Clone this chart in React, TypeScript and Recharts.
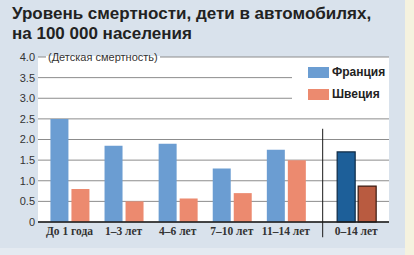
import React from "react";
import {
  ComposedChart,
  Bar,
  XAxis,
  YAxis,
  CartesianGrid,
  Legend,
  ReferenceLine,
  Cell,
} from "recharts";

// ---- data ----
const categories = ["До 1 года", "1–3 лет", "4–6 лет", "7–10 лет", "11–14 лет", "0–14 лет"];
const groupPos = [0, 1, 2, 3, 4, 5.3];
const france = [2.5, 1.85, 1.9, 1.3, 1.75, 1.7];
const sweden = [0.8, 0.5, 0.57, 0.7, 1.5, 0.87];
const yTicks = [0, 0.5, 1, 1.5, 2, 2.5, 3, 3.5, 4];
const seriesNames = ["Франция", "Швеция"];
const title = ["Уровень смертности, дети в автомобилях,", "на 100 000 населения"];
const subtitle = "(Детская смертность)";

const data = categories.map((c, i) => ({
  pos: groupPos[i],
  name: c,
  france: france[i],
  sweden: sweden[i],
}));

// ---- styles ----
const PANEL = "#d9e2ec";
const CREAM = "#f5f2df";
const FR = "#6b9dd2";
const SE = "#ec8a6f";
const FR_DARK = "#1d5f99";
const SE_DARK = "#b95b40";
const DIVIDER_X = 4.68;

const LegendContent = () => {
  const colors = [FR, SE];
  return (
    <div style={{ width: 97, height: 54, background: "#fff", position: "relative" }}>
      {seriesNames.map((n, i) => (
        <div
          key={n}
          style={{
            position: "absolute",
            left: 16,
            top: 9 + i * 22,
            display: "flex",
            alignItems: "center",
            height: 11,
          }}
        >
          <div style={{ width: 21, height: 11, background: colors[i] }} />
          <span
            style={{
              marginLeft: 3,
              fontFamily: "'Liberation Sans Narrow', 'Liberation Sans', Arial, sans-serif",
              fontWeight: "bold",
              fontSize: 12,
              color: "#222",
              lineHeight: "11px",
            }}
          >
            {n}
          </span>
        </div>
      ))}
    </div>
  );
};

export default function App() {
  return (
    <div style={{ position: "absolute", left: 0, top: 0, width: 414, height: 255, background: CREAM, overflow: "hidden" }}>
      <div style={{ position: "absolute", left: 0, top: 0, width: 405, height: 248, background: PANEL }} />
      <div style={{ position: "absolute", left: 0, top: 248, width: 405, height: 7, background: "#e4eaf1" }} />
      <div style={{ position: "absolute", left: 0, top: 0 }}>
        <ComposedChart
          width={405}
          height={248}
          data={data}
          margin={{ top: 57, right: 16, bottom: 0, left: 0 }}
          barSize={18}
          barGap={3}
        >
          <CartesianGrid vertical={false} fill="#ffffff" stroke="#8c8c8c" strokeWidth={1} />
          <XAxis
            dataKey="pos"
            type="number"
            domain={[-0.582, 5.906]}
            ticks={groupPos}
            allowDataOverflow
            interval={0}
            height={26}
            tickSize={0}
            tickMargin={5}
            axisLine={{ stroke: "#1a1a1a", strokeWidth: 1.5 }}
            tickLine={false}
            tickFormatter={(v: number) => categories[groupPos.indexOf(v)] ?? ""}
            tick={{
              fontSize: 11.5,
              fontWeight: "bold",
              fontFamily: "'Liberation Serif', 'DejaVu Serif', serif",
              fill: "#333",
            }}
          />
          <YAxis
            width={38}
            domain={[0, 4]}
            ticks={yTicks}
            interval={0}
            axisLine={false}
            tickLine={false}
            tickSize={0}
            tickMargin={3}
            tickFormatter={(v: number) => (v === 0 ? "0" : v.toFixed(1))}
            tick={{ fontSize: 11, fontFamily: "'Liberation Sans', Arial, sans-serif", fill: "#333" }}
          />
          <Legend
            layout="vertical"
            align="center"
            verticalAlign="middle"
            content={<LegendContent />}
            wrapperStyle={{ position: "absolute", left: 292, top: 58, width: 97, height: 54, margin: 0 }}
          />
          <Bar dataKey="france" name={seriesNames[0]} fill={FR} isAnimationActive={false}>
            {data.map((d, i) => (
              <Cell
                key={i}
                fill={i === data.length - 1 ? FR_DARK : FR}
                stroke={i === data.length - 1 ? "#0e2a44" : "none"}
                strokeWidth={i === data.length - 1 ? 1.2 : 0}
              />
            ))}
          </Bar>
          <Bar dataKey="sweden" name={seriesNames[1]} fill={SE} isAnimationActive={false}>
            {data.map((d, i) => (
              <Cell
                key={i}
                fill={i === data.length - 1 ? SE_DARK : SE}
                stroke={i === data.length - 1 ? "#3a1a10" : "none"}
                strokeWidth={i === data.length - 1 ? 1.2 : 0}
              />
            ))}
          </Bar>
          <ReferenceLine
            segment={[
              { x: DIVIDER_X, y: 2.26 },
              { x: DIVIDER_X, y: -0.37 },
            ]}
            stroke="#1a1a1a"
            strokeWidth={1}
            ifOverflow="visible"
          />
        </ComposedChart>
      </div>
      <div
        style={{
          position: "absolute",
          left: 46,
          top: 50,
          height: 14,
          padding: "0 2px",
          lineHeight: "14px",
          fontFamily: "'Liberation Sans', Arial, sans-serif",
          fontSize: 11,
          color: "#333",
          background: `linear-gradient(to bottom, ${PANEL} 0px, ${PANEL} 6px, #ffffff 6px, #ffffff 14px)`,
          whiteSpace: "nowrap",
        }}
      >
        {subtitle}
      </div>
      <div
        style={{
          position: "absolute",
          left: 12,
          top: 4,
          fontFamily: "'Liberation Sans', Arial, sans-serif",
          fontWeight: "bold",
          fontSize: 17,
          lineHeight: "20px",
          color: "#222",
          whiteSpace: "nowrap",
        }}
      >
        {title.map((t) => (
          <div key={t}>{t}</div>
        ))}
      </div>
    </div>
  );
}
